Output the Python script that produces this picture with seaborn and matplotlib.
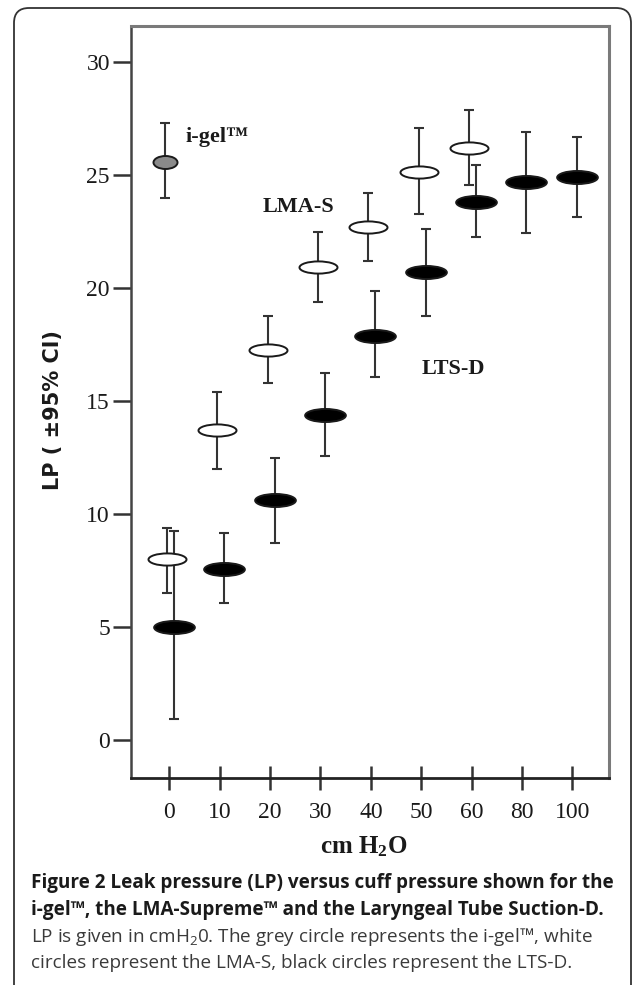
import numpy as np
import pandas as pd
import seaborn as sns
import matplotlib
matplotlib.use("Agg")
import matplotlib.pyplot as plt
from matplotlib.path import Path
from matplotlib.markers import MarkerStyle
from matplotlib.patches import FancyBboxPatch

# ---------------- data ----------------
cuff_labels = ["0", "10", "20", "30", "40", "50", "60", "80", "100"]

igel_cuff = ["0"]
igel_mean = [25.6]
igel_lo = [24.0]
igel_hi = [27.3]

lma_cuff = ["0", "10", "20", "30", "40", "50", "60"]
lma_mean = [8.0, 13.7, 17.25, 20.95, 22.7, 25.15, 26.2]
lma_lo = [6.5, 12.0, 15.8, 19.4, 21.2, 23.3, 24.55]
lma_hi = [9.4, 15.4, 18.75, 22.5, 24.2, 27.1, 27.9]

lts_cuff = ["0", "10", "20", "30", "40", "50", "60", "80", "100"]
lts_mean = [5.0, 7.55, 10.6, 14.4, 17.9, 20.7, 23.8, 24.7, 24.9]
lts_lo = [0.95, 6.05, 8.7, 12.55, 16.05, 18.75, 22.25, 22.45, 23.15]
lts_hi = [9.25, 9.15, 12.5, 16.25, 19.85, 22.6, 25.45, 26.9, 26.7]

y_ticks = [0, 5, 10, 15, 20, 25, 30]

# ---------------- style ----------------
sns.set_theme(style="white")
plt.rcParams["font.family"] = ["Liberation Serif", "DejaVu Serif"]
plt.rcParams["mathtext.default"] = "regular"

fig = plt.figure(figsize=(6.33, 9.85), dpi=100)
ax = fig.add_axes([0.2065, 0.2102, 0.7555, 0.7634])

pos = {c: i for i, c in enumerate(cuff_labels)}

def ell_marker(ratio):
    c = Path.unit_circle()
    return MarkerStyle(Path(c.vertices * np.array([1.0, ratio]), c.codes))

def draw(cuff, mean, lo, hi, dx, face, size, ratio):
    df = pd.DataFrame({
        "x": [pos[c] + dx for c in cuff],
        "y": mean,
        "lo": lo,
        "hi": hi,
    })
    ax.errorbar(df["x"], df["y"],
                yerr=[df["y"] - df["lo"], df["hi"] - df["y"]],
                fmt="none", ecolor="#333333", elinewidth=1.5,
                capsize=3.8, capthick=1.5, zorder=2)
    sns.scatterplot(data=df, x="x", y="y", ax=ax, marker=ell_marker(ratio),
                    s=size, color=face, edgecolor="#1a1a1a", linewidth=1.4,
                    zorder=3, legend=False)

draw(igel_cuff, igel_mean, igel_lo, igel_hi, -0.08, "#8a8a8a", 300, 0.54)
draw(lma_cuff, lma_mean, lma_lo, lma_hi, -0.05, "white", 750, 0.32)
draw(lts_cuff, lts_mean, lts_lo, lts_hi, 0.09, "black", 860, 0.32)

ax.set_xlim(-0.77, 8.73)
ax.set_ylim(-1.68, 31.6)
ax.set_xticks(range(len(cuff_labels)))
ax.set_xticklabels(cuff_labels)
ax.set_yticks(y_ticks)
ax.set_yticklabels([str(t) for t in y_ticks])

ax.tick_params(axis="y", left=True, direction="out", length=13, width=1.8,
               color="#333333", pad=2, labelsize=17, labelcolor="#1a1a1a")
ax.tick_params(axis="x", bottom=True, direction="inout", length=17, width=1.8,
               color="#333333", pad=9, labelsize=17, labelcolor="#1a1a1a")

for side, col, lw in [("top", "#7a7a7a", 2.2), ("right", "#7a7a7a", 2.2),
                      ("left", "#444444", 1.8), ("bottom", "#222222", 2.0)]:
    ax.spines[side].set_visible(True)
    ax.spines[side].set_color(col)
    ax.spines[side].set_linewidth(lw)

ax.set_xlabel("cm H$_2$O", fontsize=18, fontweight="bold", color="#1a1a1a")
ax.xaxis.label.set_va("center")
ax.xaxis.set_label_coords(0.488, -0.092)

ax.set_ylabel("LP ( \u00b195% CI)", fontsize=15, fontweight="bold",
              family=["DejaVu Sans"], color="#1a1a1a")
ax.yaxis.label.set_va("center")
ax.yaxis.set_label_coords(-0.1625, 0.489)

ax.text(0.31, 26.7, "i-gel\u2122", fontsize=16, fontweight="bold",
        ha="left", va="center", color="#1a1a1a")
ax.text(1.85, 23.6, "LMA-S", fontsize=16, fontweight="bold",
        ha="left", va="center", color="#1a1a1a")
ax.text(5.0, 16.4, "LTS-D", fontsize=16, fontweight="bold",
        ha="left", va="center", color="#1a1a1a")

# caption
cap_x = 31 / 633
lines = [
    ("Figure 2 Leak pressure (LP) versus cuff pressure shown for the", "bold", "#1a1a1a", 883),
    ("i-gel\u2122, the LMA-Supreme\u2122 and the Laryngeal Tube Suction-D.", "bold", "#1a1a1a", 910),
    ("LP is given in cmH$_2$0. The grey circle represents the i-gel\u2122, white", "normal", "#3a3a3a", 937),
    ("circles represent the LMA-S, black circles represent the LTS-D.", "normal", "#3a3a3a", 963),
]
for txt, w, col, ypx in lines:
    fig.text(cap_x, 1 - ypx / 985, txt, fontsize=13.6, fontweight=w, color=col,
             family=["Open Sans", "DejaVu Sans"], ha="left", va="center")

# rounded outer frame
frame = FancyBboxPatch((0.14, -0.5), 6.17, 9.77 + 0.5,
                       boxstyle="round,pad=0,rounding_size=0.15",
                       transform=fig.dpi_scale_trans, fill=False,
                       edgecolor="#333333", linewidth=1.3, clip_on=False)
fig.patches.append(frame)

fig.savefig("out.png", dpi=100)
